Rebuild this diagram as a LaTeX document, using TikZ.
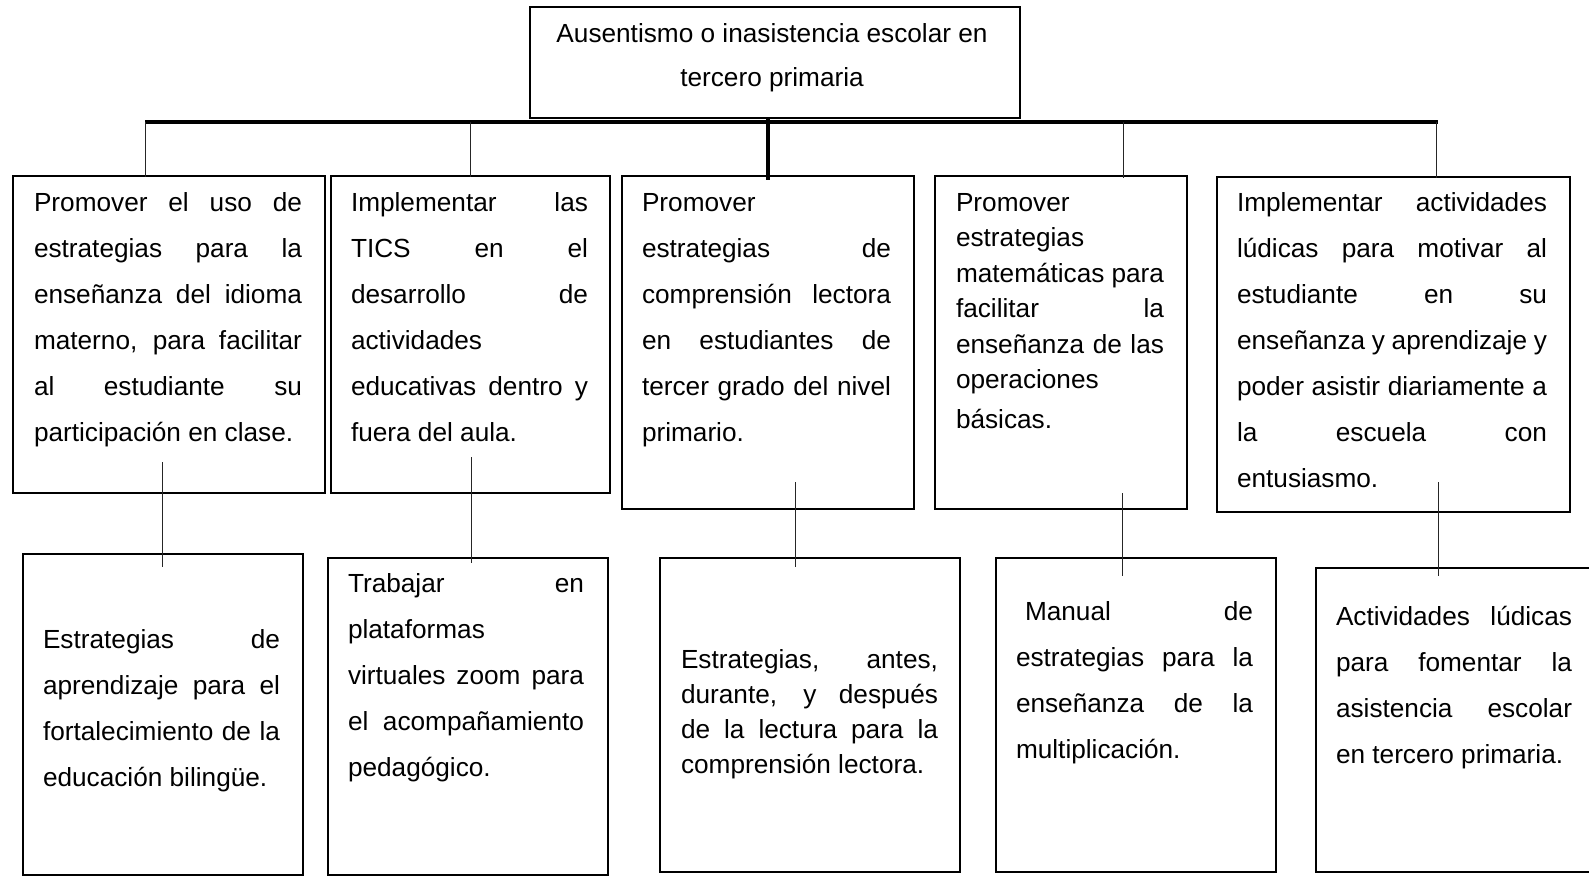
\documentclass[tikz,border=0pt]{standalone}
\usepackage{fontspec}
\setmainfont{Liberation Sans}
\newcommand{\J}[1]{\hbox to \linewidth{#1}}
\newcommand{\Lf}[1]{\hbox to \linewidth{#1\hfil}}
\newcommand{\tb}[3]{\parbox[t]{#1}{\fontsize{26.2}{#2}\selectfont\baselineskip=#2\lineskiplimit=-20pt #3}}
\tikzset{
  box/.style={draw, line width=2.4pt, rectangle, inner sep=0pt, anchor=north west},
  txt/.style={anchor=base west, inner sep=0pt, outer sep=0pt},
  conn/.style={line width=1pt, draw=black!85},
  trunk/.style={line width=4pt}
}
\begin{document}
\begin{tikzpicture}[x=1pt,y=-1pt]
\clip (0,0) rectangle (1589,875);
\fill[white] (0,0) rectangle (1589,875);
% boxes
\node[box, minimum width=490pt, minimum height=111pt] (top) at (529,6) {};
\node[box, minimum width=312pt, minimum height=317pt] (b1) at (12,175) {};
\node[box, minimum width=279pt, minimum height=317pt] (b2) at (330,175) {};
\node[box, minimum width=292pt, minimum height=333pt] (b3) at (621,175) {};
\node[box, minimum width=252pt, minimum height=333pt] (b4) at (934,175) {};
\node[box, minimum width=353pt, minimum height=335pt] (b5) at (1216,176) {};
\node[box, minimum width=280pt, minimum height=321pt] (d1) at (22,553) {};
\node[box, minimum width=280pt, minimum height=317pt] (d2) at (327,557) {};
\node[box, minimum width=300pt, minimum height=314pt] (d3) at (659,557) {};
\node[box, minimum width=280pt, minimum height=314pt] (d4) at (995,557) {};
\node[box, minimum width=305pt, minimum height=304pt] (d5) at (1315,567) {};
% texts
\node[txt] (ttop) at (542,42) {\tb{460pt}{44pt}{%
  \hbox to \linewidth{\hfil Ausentismo o inasistencia escolar en\hfil}
  \hbox to \linewidth{\hfil tercero primaria\hfil}}};
\node[txt] (t1) at (34,211) {\tb{268pt}{46pt}{%
  \J{Promover el uso de}
  \J{estrategias para la}
  \J{enseñanza del idioma}
  \J{materno, para facilitar}
  \J{al estudiante su}
  \Lf{participación en clase.}}};
\node[txt] (t2) at (351,211) {\tb{237pt}{46pt}{%
  \J{Implementar las}
  \J{TICS en el}
  \J{desarrollo de}
  \Lf{actividades}
  \J{educativas dentro y}
  \Lf{fuera del aula.}}};
\node[txt] (t3) at (642,211) {\tb{249pt}{46pt}{%
  \Lf{Promover}
  \J{estrategias de}
  \J{comprensión lectora}
  \J{en estudiantes de}
  \J{tercer grado del nivel}
  \Lf{primario.}}};
\node[txt] (t4) at (956,211) {\tb{208pt}{35.5pt}{%
  \Lf{Promover}
  \Lf{estrategias}
  \J{matemáticas para}
  \J{facilitar la}
  \J{enseñanza de las}
  \Lf{operaciones}
  \vskip4pt
  \Lf{básicas.}}};
\node[txt] (t5) at (1237,211) {\tb{310pt}{46pt}{%
  \J{Implementar actividades}
  \J{lúdicas para motivar al}
  \J{estudiante en su}
  \J{enseñanza y aprendizaje y}
  \J{poder asistir diariamente a}
  \J{la escuela con}
  \Lf{entusiasmo.}}};
\node[txt] (s1) at (43,648) {\tb{237pt}{46pt}{%
  \J{Estrategias de}
  \J{aprendizaje para el}
  \J{fortalecimiento de la}
  \Lf{educación bilingüe.}}};
\node[txt] (s2) at (348,592) {\tb{236pt}{46pt}{%
  \J{Trabajar en}
  \Lf{plataformas}
  \J{virtuales zoom para}
  \J{el acompañamiento}
  \Lf{pedagógico.}}};
\node[txt] (s3) at (681,668) {\tb{257pt}{35pt}{%
  \J{Estrategias, antes,}
  \J{durante, y después}
  \J{de la lectura para la}
  \Lf{comprensión lectora.}}};
\node[txt] (s4) at (1016,620) {\tb{237pt}{46pt}{%
  \J{\hspace*{9pt}Manual de}
  \J{estrategias para la}
  \J{enseñanza de la}
  \Lf{multiplicación.}}};
\node[txt] (s5) at (1336,625) {\tb{236pt}{46pt}{%
  \J{Actividades lúdicas}
  \J{para fomentar la}
  \J{asistencia escolar}
  \Lf{en tercero primaria.}}};
% connector coordinates
\coordinate (barL) at (145,122);
\coordinate (barR) at (1438,122);
\coordinate (tr0) at (768,117);
\coordinate (tr1) at (768,180);
\coordinate (a1) at (145,122); \coordinate (e1) at (145,177);
\coordinate (a2) at (470,122); \coordinate (e2) at (470,177);
\coordinate (a4) at (1123,122); \coordinate (e4) at (1123,178);
\coordinate (a5) at (1436,122); \coordinate (e5) at (1436,178);
\coordinate (l1a) at (162,462); \coordinate (l1b) at (162,567);
\coordinate (l2a) at (471,457); \coordinate (l2b) at (471,563);
\coordinate (l3a) at (795,482); \coordinate (l3b) at (795,567);
\coordinate (l4a) at (1122,493); \coordinate (l4b) at (1122,576);
\coordinate (l5a) at (1438,482); \coordinate (l5b) at (1438,576);
% connectors
\draw[trunk] (barL) -- (barR);
\draw[trunk] (tr0) -- (tr1);
\draw[conn] (a1) -- (e1);
\draw[conn] (a2) -- (e2);
\draw[conn] (a4) -- (e4);
\draw[conn] (a5) -- (e5);
\draw[conn] (l1a) -- (l1b);
\draw[conn] (l2a) -- (l2b);
\draw[conn] (l3a) -- (l3b);
\draw[conn] (l4a) -- (l4b);
\draw[conn] (l5a) -- (l5b);
\end{tikzpicture}
\end{document}
